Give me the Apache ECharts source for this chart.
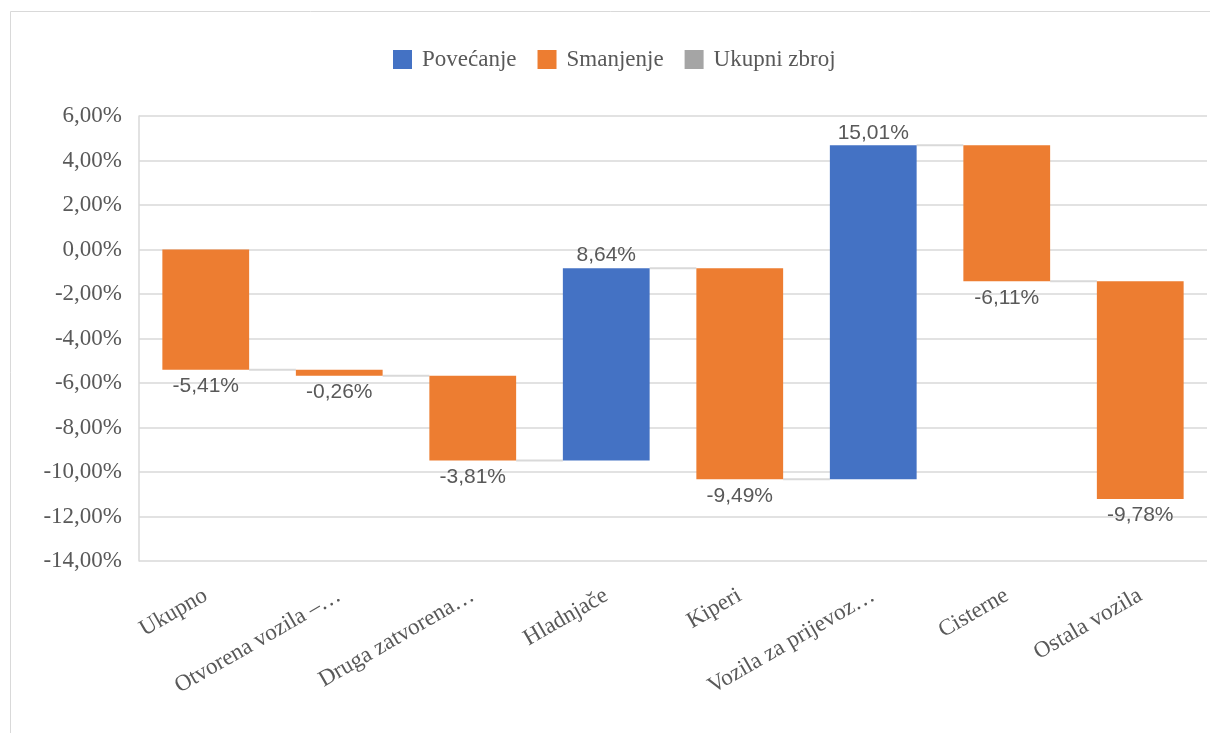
<!DOCTYPE html>
<html>
<head>
<meta charset="utf-8">
<script src="https://cdn.jsdelivr.net/npm/echarts@6/dist/echarts.min.js"></script>
<style>
html,body{margin:0;padding:0;background:#fff;}
#main{width:1210px;height:733px;}
</style>
</head>
<body>
<div id="main"></div>
<script>
var categories = ['Ukupno', 'Otvorena vozila –…', 'Druga zatvorena…', 'Hladnjače', 'Kiperi', 'Vozila za prijevoz…', 'Cisterne', 'Ostala vozila'];
var changes = [-5.41, -0.26, -3.81, 8.64, -9.49, 15.01, -6.11, -9.78];
var yTicks = { min: -14, max: 6, interval: 2 };
var legendNames = ['Povećanje', 'Smanjenje', 'Ukupni zbroj'];

var COLORS = { inc: '#4472C4', dec: '#ED7D31', tot: '#A5A5A5' };

// running totals
var starts = [], ends = [];
var acc = 0;
for (var i = 0; i < changes.length; i++) {
  starts.push(acc);
  acc = +(acc + changes[i]).toFixed(4);
  ends.push(acc);
}
var incData = [], decData = [], connData = [];
for (var i = 0; i < changes.length; i++) {
  var item = [i, starts[i], ends[i], changes[i]];
  if (changes[i] >= 0) incData.push(item); else decData.push(item);
  if (i < changes.length - 1) connData.push([i, ends[i]]);
}
function fmt(v) { return v.toFixed(2).replace('.', ',') + '%'; }

var SERIF = '"Liberation Serif", "Times New Roman", serif';
var BAR_RATIO = 0.65;
function renderBar(color) {
  return function (params, api) {
    var idx = api.value(0), s = api.value(1), e = api.value(2), ch = api.value(3);
    var p1 = api.coord([idx, s]);
    var p2 = api.coord([idx, e]);
    var w = api.size([1, 0])[0] * BAR_RATIO;
    var top = Math.min(p1[1], p2[1]), bot = Math.max(p1[1], p2[1]);
    var children = [{
      type: 'rect',
      shape: { x: p1[0] - w / 2, y: top, width: w, height: Math.max(bot - top, 1) },
      style: { fill: color }
    }];
    var inc = ch >= 0;
    children.push({
      type: 'text',
      style: {
        text: fmt(ch),
        x: p1[0],
        y: inc ? top - 2 : bot + 6,
        align: 'center',
        verticalAlign: inc ? 'bottom' : 'top',
        fill: '#595959',
        font: '21px "Liberation Sans", Arial, sans-serif'
      }
    });
    return { type: 'group', children: children };
  };
}

var chart = echarts.init(document.getElementById('main'));
chart.setOption({
  backgroundColor: '#fff',
  animation: false,
  graphic: [{
    type: 'rect',
    left: 8, top: 9,
    shape: { width: 1230, height: 760 },
    style: { fill: 'none', stroke: '#d9d9d9', lineWidth: 1 },
    silent: true, z: -10
  }],
  legend: {
    data: legendNames.map(function (n) { return { name: n, icon: 'rect' }; }),
    left: 388, top: 43,
    itemWidth: 19, itemHeight: 19, itemGap: 21,
    textStyle: { fontFamily: SERIF, fontSize: 23, color: '#595959', padding: [0, 0, 0, 5] }
  },
  grid: { left: 139, right: 3, top: 116, bottom: 172, containLabel: false },
  xAxis: {
    type: 'category',
    data: categories,
    axisLine: { show: false },
    axisTick: { show: false },
    splitLine: { show: false },
    axisLabel: {
      rotate: 30, margin: 33, interval: 0,
      fontFamily: SERIF, fontSize: 23, color: '#595959'
    }
  },
  yAxis: {
    type: 'value',
    min: yTicks.min, max: yTicks.max, interval: yTicks.interval,
    axisLine: { show: true, lineStyle: { color: '#d9d9d9', width: 1.5 } },
    axisTick: { show: false },
    splitLine: { lineStyle: { color: '#d9d9d9', width: 1.5 } },
    axisLabel: {
      formatter: fmt, margin: 17,
      fontFamily: SERIF, fontSize: 23, color: '#595959'
    }
  },
  series: [
    {
      name: 'Connectors', type: 'custom', silent: true, z: 1,
      encode: { x: 0, y: 1 },
      data: connData,
      renderItem: function (params, api) {
        var idx = api.value(0), lvl = api.value(1);
        var a = api.coord([idx, lvl]);
        var b = api.coord([idx + 1, lvl]);
        var w = api.size([1, 0])[0] * BAR_RATIO;
        return {
          type: 'line',
          shape: { x1: a[0] + w / 2, y1: a[1], x2: b[0] - w / 2, y2: b[1] },
          style: { stroke: '#d9d9d9', lineWidth: 2 }
        };
      }
    },
    {
      name: 'Povećanje', type: 'custom', z: 2,
      itemStyle: { color: COLORS.inc },
      encode: { x: 0, y: [1, 2] },
      data: incData,
      renderItem: renderBar(COLORS.inc)
    },
    {
      name: 'Smanjenje', type: 'custom', z: 2,
      itemStyle: { color: COLORS.dec },
      encode: { x: 0, y: [1, 2] },
      data: decData,
      renderItem: renderBar(COLORS.dec)
    },
    {
      name: 'Ukupni zbroj', type: 'bar',
      itemStyle: { color: COLORS.tot },
      data: []
    }
  ]
});
</script>
</body>
</html>
